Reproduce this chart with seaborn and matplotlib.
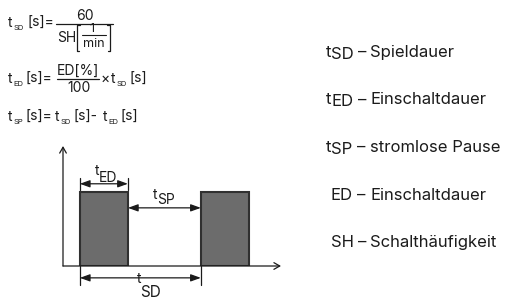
import matplotlib
matplotlib.use("Agg")
import matplotlib.pyplot as plt
import seaborn as sns

# pulse train of the switching cycle (time units, on-level = 1)
pulse_start = [1.05, 8.6]
pulse_end = [4.05, 11.6]
pulse_level = [1.0, 1.0]
t_max = 13.6
level_max = 1.62

# legend on the right
legend_sym = [("t", "SD"), ("t", "ED"), ("t", "SP"), ("ED", ""), ("SH", "")]
legend_desc = ["Spieldauer", "Einschaltdauer", "stromlose Pause",
               "Einschaltdauer", "Schalthäufigkeit"]

INK = "#1b1b1b"
W, H = 507, 302

sns.set_theme(style="white")
plt.rcParams["font.family"] = ["Inter", "DejaVu Sans"]

fig = plt.figure(figsize=(W / 100, H / 100), dpi=100)
fig.patch.set_facecolor("white")

# background axes in pixel units for all the text
bg = fig.add_axes([0, 0, 1, 1])
bg.set_xlim(0, W)
bg.set_ylim(H, 0)
bg.axis("off")
renderer = fig.canvas.get_renderer()


def put(x, y, s, size, ha="left"):
    t = bg.text(x, y, s, fontsize=size, va="baseline", ha=ha, color=INK)
    return t.get_window_extent(renderer).width


def put_run(x, y, parts, size=10, sub_size=5.5, sub_dy=3):
    # parts: list of (text, is_subscript, gap_before)
    for s, sub, gap in parts:
        x += gap
        if sub:
            x += put(x, y + sub_dy, s, sub_size)
        else:
            x += put(x, y, s, size)
    return x


# ---- formulas ----
put_run(8, 27, [("t", False, 0), ("SD", True, 1), ("[s]=", False, 4)])
bg.plot([56, 113], [24, 24], color=INK, lw=0.9)
put(85, 20, "60", 10, ha="center")
put(57, 42, "SH", 10)
bg.plot([80, 77, 77, 79], [25, 25, 51, 51], color=INK, lw=0.9)
bg.plot([107, 110, 110, 108], [25, 25, 51, 51], color=INK, lw=0.9)
put(92, 32, "1", 9, ha="center")
bg.plot([82, 106], [35, 35], color=INK, lw=0.8)
put(94, 47, "min", 9, ha="center")

put_run(8, 83, [("t", False, 0), ("ED", True, 1), ("[s]=", False, 2)])
bg.plot([57, 99], [79, 79], color=INK, lw=0.9)
put(78, 75, "ED[%]", 10, ha="center")
put(79, 92, "100", 10, ha="center")
put_run(101, 83, [("×", False, 0), ("t", False, 1), ("SD", True, 1),
                  ("[s]", False, 2)], size=10)

put_run(8, 121, [("t", False, 0), ("SP", True, 1), ("[s]=", False, 2),
                 ("t", False, 3), ("SD", True, 1), ("[s]-", False, 3),
                 ("t", False, 5), ("ED", True, 1), ("[s]", False, 2)])

# ---- legend ----
row_y = [57, 104.5, 152, 199.5, 247]
for (main, sub), desc, y in zip(legend_sym, legend_desc, row_y):
    if sub:
        x = 326 + put(326, y, main, 12)
        x += put(x, y + 2, sub, 12)
    else:
        x = 331 + put(331, y, main, 12)
    put(x + 4, y, "–", 12)
    put(370, y, desc, 12)

# ---- pulse diagram ----
x0, x1, ybase, ytop = 63, 281, 266, 146
ax = fig.add_axes([x0 / W, 1 - ybase / H, (x1 - x0) / W, (ybase - ytop) / H])
ax.set_xlim(0, t_max)
ax.set_ylim(0, level_max)
ax.axis("off")

widths = [e - s for s, e in zip(pulse_start, pulse_end)]
ax.bar(pulse_start, pulse_level, width=widths, align="edge",
       color="#6c6c6c", edgecolor="#303030", linewidth=1.5, zorder=3)

axis_kw = dict(arrowstyle="->,head_length=0.35,head_width=0.2", color=INK,
               lw=0.9, shrinkA=0, shrinkB=0)
ax.annotate("", xy=(0, level_max), xytext=(0, 0), arrowprops=axis_kw,
            annotation_clip=False)
ax.annotate("", xy=(t_max, 0), xytext=(0, 0), arrowprops=axis_kw,
            annotation_clip=False)

dim_kw = dict(arrowstyle="<|-|>,head_length=0.5,head_width=0.18", color=INK,
              lw=0.9, shrinkA=0, shrinkB=0)
on_level = pulse_level[0]
y_ed = on_level * 1.11
y_sp = on_level * 0.785
y_sd = -on_level * 0.16


def dim(xa, xb, y):
    ax.annotate("", xy=(xb, y), xytext=(xa, y), arrowprops=dim_kw,
                annotation_clip=False)


dim(pulse_start[0], pulse_end[0], y_ed)
dim(pulse_end[0], pulse_start[1], y_sp)
dim(pulse_start[0], pulse_start[1], y_sd)
for xv in (pulse_start[0], pulse_end[0]):
    ax.plot([xv, xv], [y_ed - 0.08, y_ed + 0.08], color=INK, lw=0.9,
            clip_on=False)
for xv in (pulse_start[0], pulse_start[1]):
    ax.plot([xv, xv], [0, y_sd - 0.1], color=INK, lw=0.9, clip_on=False)

# dimension labels
put(95, 175, "t", 10)
put(99, 182, "ED", 10)
put(153, 199, "t", 10)
put(157, 204, "SP", 10)
put(137, 283, "t", 10)
put(140, 297, "SD", 11)

fig.savefig("out.png", dpi=100, facecolor="white")
